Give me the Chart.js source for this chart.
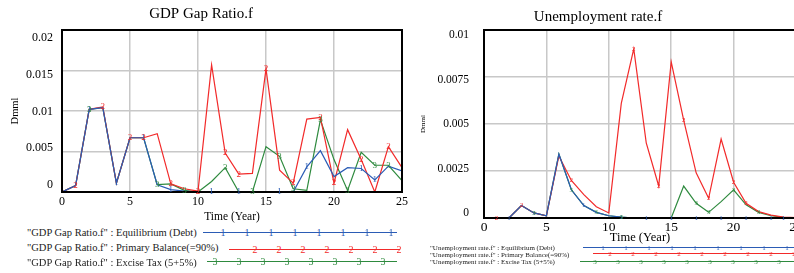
<!DOCTYPE html>
<html lang="en">
<head>
    <meta charset="UTF-8">
    <title>GDP Gap Ratio / Unemployment rate</title>
    <style>
        body {
            margin: 0;
            width: 794px;
            height: 273px;
            overflow: hidden;
            background: #fff;
            position: relative;
            font-family: "Liberation Serif", "Times New Roman", serif;
        }

        .box {
            position: absolute;
            top: 0;
        }

        .lg-text {
            position: absolute;
            white-space: nowrap;
            line-height: 1;
            color: #222;
            transform: translateY(-50%);
        }

        .lg-line {
            position: absolute;
            height: 0;
        }

        .lg-mark {
            position: absolute;
            line-height: 1;
            transform: translate(-50%, -50%);
        }
    </style>
</head>
<body>
<div class="box" style="left: 0; width: 426px; height: 225px">
    <canvas id="gdp-chart" width="426" height="225"></canvas>
</div>
<div class="box" style="left: 400px; width: 422px; height: 245px">
    <canvas id="unemp-chart" width="422" height="245"></canvas>
</div>
<div id="legends"></div>

<script src="https://cdn.jsdelivr.net/npm/chart.js@4.4.0/dist/chart.umd.min.js"></script>
<script>
    const years = [0, 1, 2, 3, 4, 5, 6, 7, 8, 9, 10, 11, 12, 13, 14, 15, 16, 17, 18, 19, 20, 21, 22, 23, 24, 25];
    const seriesNames = ["Equilibrium (Debt)", "Primary Balance(=90%)", "Excise Tax (5+5%)"];
    const seriesMarks = ["1", "2", "3"];

    // GDP Gap Ratio.f
    const gdpEquilibrium = [0, 0.0008, 0.0102, 0.0104, 0.0011, 0.0067, 0.0067, 0.0009, 0.0003, 0.0001, 0, 0, 0, 0, 0, 0, 0, 0,
        0.0031, 0.0051, 0.0019, 0.003, 0.0029, 0.0015, 0.0032, 0.0026];
    const gdpPrimary = [0, 0.0008, 0.0102, 0.0105, 0.0011, 0.0067, 0.0067, 0.0072, 0.001, 0.0004, 0.0001, 0.0157, 0.0048,
        0.0022, 0.0023, 0.0152, 0.0027, 0.0011, 0.009, 0.0092, 0.0011, 0.0077, 0.004, 0, 0.0056, 0.003];
    const gdpExcise = [0, 0.0008, 0.0102, 0.0104, 0.0011, 0.0067, 0.0067, 0.0009, 0.001, 0.0002, 0, 0.0013, 0.003, 0, 0,
        0.0056, 0.0044, 0.0004, 0.0002, 0.0089, 0.004, 0.0002, 0.0049, 0.0033, 0.0033, 0.0014];
    const gdpYTicks = [0, 0.005, 0.01, 0.015, 0.02];
    const gdpYLabels = ["0", "0.005", "0.01", "0.015", "0.02"];

    // Unemployment rate.f
    const unempEquilibrium = [0, 0, 0, 0.00066, 0.00027, 0.00012, 0.0034, 0.0015, 0.00066, 0.0003, 0.00012, 0.00005, 0, 0, 0,
        0, 0, 0, 0, 0, 0, 0, 0, 0, 0, 0];
    const unempPrimary = [0, 0, 0, 0.00066, 0.00027, 0.00012, 0.0033, 0.002, 0.00124, 0.0006, 0.00027, 0.0061, 0.009, 0.004,
        0.0017, 0.0083, 0.0052, 0.0024, 0.00105, 0.0042, 0.0019, 0.00078, 0.00034, 0.00015, 0.00005, 0.00002];
    const unempExcise = [0, 0, 0, 0.00066, 0.00027, 0.00012, 0.0034, 0.0015, 0.00066, 0.0003, 0.00012, 0.00005, 0, 0, 0, 0,
        0.0017, 0.00078, 0.0003, 0.00087, 0.0015, 0.0007, 0.0003, 0.00012, 0.00004, 0];
    const unempYTicks = [0, 0.0025, 0.005, 0.0075, 0.01];
    const unempYLabels = ["0", "0.0025", "0.005", "0.0075", "0.01"];

    const colors = ["#2b5cb5", "#f22a2a", "#2e8a3e"];
    const serif = "'Liberation Serif', 'Times New Roman', serif";

    // numbered run markers ("1", "2", "3") on the lines
    const markPlugin = {
        id: "marks",
        afterDatasetsDraw(chart, args, opts) {
            const ctx = chart.ctx;
            ctx.save();
            ctx.font = opts.size + "px " + serif;
            ctx.textAlign = "center";
            ctx.textBaseline = "middle";
            chart.data.datasets.forEach((ds, i) => {
                const meta = chart.getDatasetMeta(i);
                ctx.fillStyle = ds.borderColor;
                ds.marks.forEach(k => {
                    const p = meta.data[k];
                    ctx.fillText(ds.label, p.x, p.y);
                });
            });
            ctx.restore();
        }
    };

    // black frame round the plot area
    const framePlugin = {
        id: "frame",
        afterDatasetsDraw(chart) {
            const {ctx, chartArea: a} = chart;
            ctx.save();
            ctx.strokeStyle = "#000";
            ctx.lineWidth = 2;
            ctx.strokeRect(a.left, a.top, a.right - a.left, a.bottom - a.top);
            ctx.restore();
        }
    };

    function makeChart(id, o) {
        const setTicks = values => scale => {
            scale.ticks = values.map(v => ({value: v}));
        };
        return new Chart(id, {
            type: "line",
            data: {
                datasets: o.series.map((s, i) => ({
                    label: seriesMarks[i],
                    data: years.map((t, k) => ({x: t, y: s[k]})),
                    borderColor: colors[i],
                    borderWidth: 1.2,
                    pointRadius: 0,
                    tension: 0,
                    marks: o.marks[i]
                }))
            },
            options: {
                responsive: false,
                animation: false,
                layout: {padding: {left: 0, right: o.padRight, top: 0, bottom: 0}},
                plugins: {
                    legend: {display: false},
                    tooltip: {enabled: false},
                    title: {
                        display: true,
                        text: o.title,
                        color: "#000",
                        font: {family: serif, size: 15, weight: "normal"},
                        padding: o.titlePad
                    },
                    marks: {size: o.markSize}
                },
                scales: {
                    x: {
                        type: "linear",
                        min: 0,
                        max: 25,
                        ticks: {
                            stepSize: 5,
                            padding: o.xTickPad,
                            color: "#000",
                            maxRotation: 0,
                            font: {family: serif, size: o.xFont}
                        },
                        grid: {color: "#c8c8c8", lineWidth: 1.5, drawTicks: false},
                        border: {color: "#000", width: 2},
                        title: {
                            display: true,
                            text: "Time (Year)",
                            color: "#000",
                            font: {family: serif, size: o.xTitleFont},
                            padding: {top: 0, bottom: o.xTitlePad}
                        },
                        afterFit: s => { s.height = o.xHeight; }
                    },
                    y: {
                        min: 0,
                        max: o.yMax,
                        weight: 0,
                        afterBuildTicks: setTicks(o.yTicks),
                        ticks: {display: false},
                        grid: {color: "#c8c8c8", lineWidth: 1.5, drawTicks: false},
                        border: {color: "#000", width: 2},
                        afterFit: s => { s.width = 0; }
                    },
                    yl: {
                        position: "left",
                        weight: 1,
                        min: o.lMin,
                        max: o.lMax,
                        afterBuildTicks: setTicks(o.yTicks),
                        ticks: {
                            padding: o.yTickPad,
                            color: "#000",
                            font: {family: serif, size: o.yFont},
                            callback: (v, i) => o.yLabels[i]
                        },
                        grid: {display: false, drawTicks: false},
                        border: {display: false},
                        title: {
                            display: true,
                            text: "Dmml",
                            color: "#000",
                            font: {family: serif, size: o.yTitleFont},
                            padding: {top: o.yTitlePad, bottom: 0}
                        },
                        afterFit: s => { s.width = o.yWidth; }
                    }
                }
            },
            plugins: [framePlugin, markPlugin]
        });
    }

    makeChart("gdp-chart", {
        title: "GDP Gap Ratio.f",
        series: [gdpEquilibrium, gdpPrimary, gdpExcise],
        marks: [
            [2, 4, 6, 8, 11, 13, 16, 18, 22, 23],
            [1, 3, 5, 6, 8, 10, 12, 13, 15, 17, 19, 20, 22, 24],
            [2, 7, 9, 12, 14, 16, 17, 19, 21, 23, 24]
        ],
        markSize: 9,
        padRight: 24,
        titlePad: {top: 5, bottom: 7},
        xTickPad: 3, xFont: 12, xTitleFont: 11.5, xTitlePad: 1, xHeight: 33,
        yMax: 0.02, yTicks: gdpYTicks, yLabels: gdpYLabels,
        lMin: -0.000952, lMax: 0.02109,
        yTickPad: 9, yFont: 12, yTitleFont: 10.5, yTitlePad: 8.5, yWidth: 62
    });

    makeChart("unemp-chart", {
        title: "Unemployment rate.f",
        series: [unempEquilibrium, unempPrimary, unempExcise],
        marks: [
            [2, 4, 8, 11, 13, 15, 17, 19, 21, 23, 24],
            [1, 3, 7, 12, 14, 16, 18, 20, 21],
            [4, 7, 9, 11, 17, 18, 20, 22]
        ],
        markSize: 7,
        padRight: 26,
        titlePad: {top: 8, bottom: 4},
        xTickPad: 1, xFont: 13.5, xTitleFont: 12.5, xTitlePad: 0, xHeight: 27,
        yMax: 0.01, yTicks: unempYTicks, yLabels: unempYLabels,
        lMin: -0.000281, lMax: 0.010281,
        yTickPad: 15, yFont: 11.5, yTitleFont: 7, yTitlePad: 19, yWidth: 84
    });

    // Vensim style legends below each chart
    function addLegend(variable, rows, fontSize, markSize) {
        const host = document.querySelector("#legends");
        rows.forEach((r, i) => {
            const text = document.createElement("div");
            text.className = "lg-text";
            text.style.left = r.textX + "px";
            text.style.top = r.y + "px";
            text.style.fontSize = fontSize + "px";
            text.textContent = "\"" + variable + "\" : " + seriesNames[i];
            host.appendChild(text);

            const line = document.createElement("div");
            line.className = "lg-line";
            line.style.left = r.x1 + "px";
            line.style.width = (r.x2 - r.x1) + "px";
            line.style.top = (r.lineY - 0.75) + "px";
            line.style.borderTop = "1.5px solid " + colors[i];
            host.appendChild(line);

            for (let x = r.mark0; x <= r.x2 + 2; x += r.step) {
                const m = document.createElement("div");
                m.className = "lg-mark";
                m.style.left = x + "px";
                m.style.top = r.lineY + "px";
                m.style.fontSize = markSize + "px";
                m.style.color = colors[i];
                m.textContent = seriesMarks[i];
                host.appendChild(m);
            }
        });
    }

    addLegend("GDP Gap Ratio.f", [
        {textX: 27, y: 233, lineY: 233, x1: 203, x2: 397, mark0: 223, step: 24},
        {textX: 27, y: 248, lineY: 250, x1: 229, x2: 400, mark0: 255, step: 24},
        {textX: 27, y: 263, lineY: 262, x1: 207, x2: 397, mark0: 215, step: 24}
    ], 10.5, 10);

    addLegend("Unemployment rate.f", [
        {textX: 430, y: 248, lineY: 248, x1: 583, x2: 794, mark0: 603, step: 23},
        {textX: 430, y: 255, lineY: 254, x1: 593, x2: 794, mark0: 610, step: 23},
        {textX: 430, y: 262, lineY: 262, x1: 580, x2: 794, mark0: 595, step: 23}
    ], 7, 7);
</script>
</body>
</html>
